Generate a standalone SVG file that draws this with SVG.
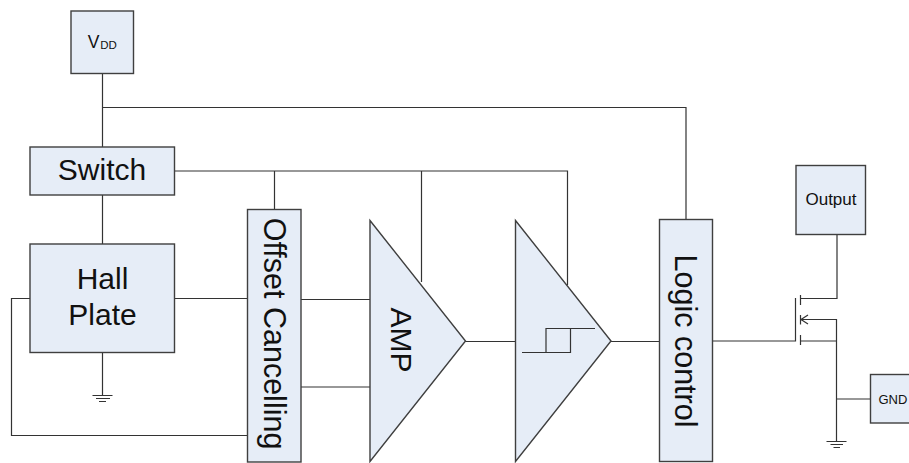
<svg xmlns="http://www.w3.org/2000/svg" width="909" height="463" viewBox="0 0 909 463">
<style>
.b{fill:#e6edf7;stroke:#3f3f3f;stroke-width:1.4}
.w{fill:none;stroke:#333;stroke-width:1.2}
.t{font-family:"Liberation Sans",Arial,sans-serif;fill:#111;text-anchor:middle}
.l{font-size:30px}.r{font-size:30.500px}
</style>
<rect width="909" height="463" fill="#fff"/>
<g id="connectors" class="w">
<path d="M102.500 73V147M102.500 107.500H686V219M174 171H567.500V285M421.500 171V282M274.500 171V209"/>
<path d="M102.500 195V244M174 298.500H248M30 298.500H11.500V435.500H248M102.500 352V395M92.500 395.500H112.500M96 398.500H110M99 401.500H106"/>
<path d="M301 299.500H370M301 387H370M465 341.500H515M611 341.500H660"/>
<path d="M712 341H795.500V298M800.500 295V305M800.500 315V324.500M800.500 335V345M801 298.500H837V234M801 341H836.500V441M836.500 399H870M801 319.500H836.500V341M801 319.500L808 315M801 319.500L808 324M826.500 441.500H846.500M830.500 444.500H843M833.500 447.500H840"/>
</g>
<g id="vdd"><rect class="b" x="71" y="11" width="62.500" height="62.500"/><text class="t" x="93.500" y="47.500" font-size="17.500">V</text><text class="t" x="108.500" y="49" font-size="11.500">DD</text></g>
<g id="switch"><rect class="b" x="30" y="147" width="144.500" height="48"/><text class="t l" x="102" y="179.500">Switch</text></g>
<g id="hall"><rect class="b" x="30" y="244" width="144.500" height="108.500"/><text class="t l" x="102.500" y="288.500">Hall</text><text class="t l" x="102.500" y="325">Plate</text></g>
<g id="offset"><rect class="b" x="247.500" y="209.500" width="53.500" height="252.500"/><text class="t r" transform="translate(264 333.500) rotate(90)">Offset Cancelling</text></g>
<g id="amp"><path class="b" d="M370 220.500L465.500 341L370 461.500Z"/><text class="t l" transform="translate(391 340) rotate(90)">AMP</text></g>
<g id="comparator"><path class="b" d="M515.500 220.500L611 341L515.500 461.500Z"/><path class="w" d="M522 352.500H570.500V328.500M546 352.500V328.500H595"/></g>
<g id="logic"><rect class="b" x="659.500" y="219.500" width="53" height="242"/><text class="t r" transform="translate(675 341) rotate(90)">Logic control</text></g>
<g id="output"><rect class="b" x="796" y="165.500" width="69.500" height="69"/><text class="t" x="831" y="205" font-size="17">Output</text></g>
<g id="gnd"><rect class="b" x="870.500" y="374.500" width="45" height="48.500"/><text class="t" x="878.500" y="403.500" font-size="13" style="text-anchor:start">GND</text></g>
</svg>
